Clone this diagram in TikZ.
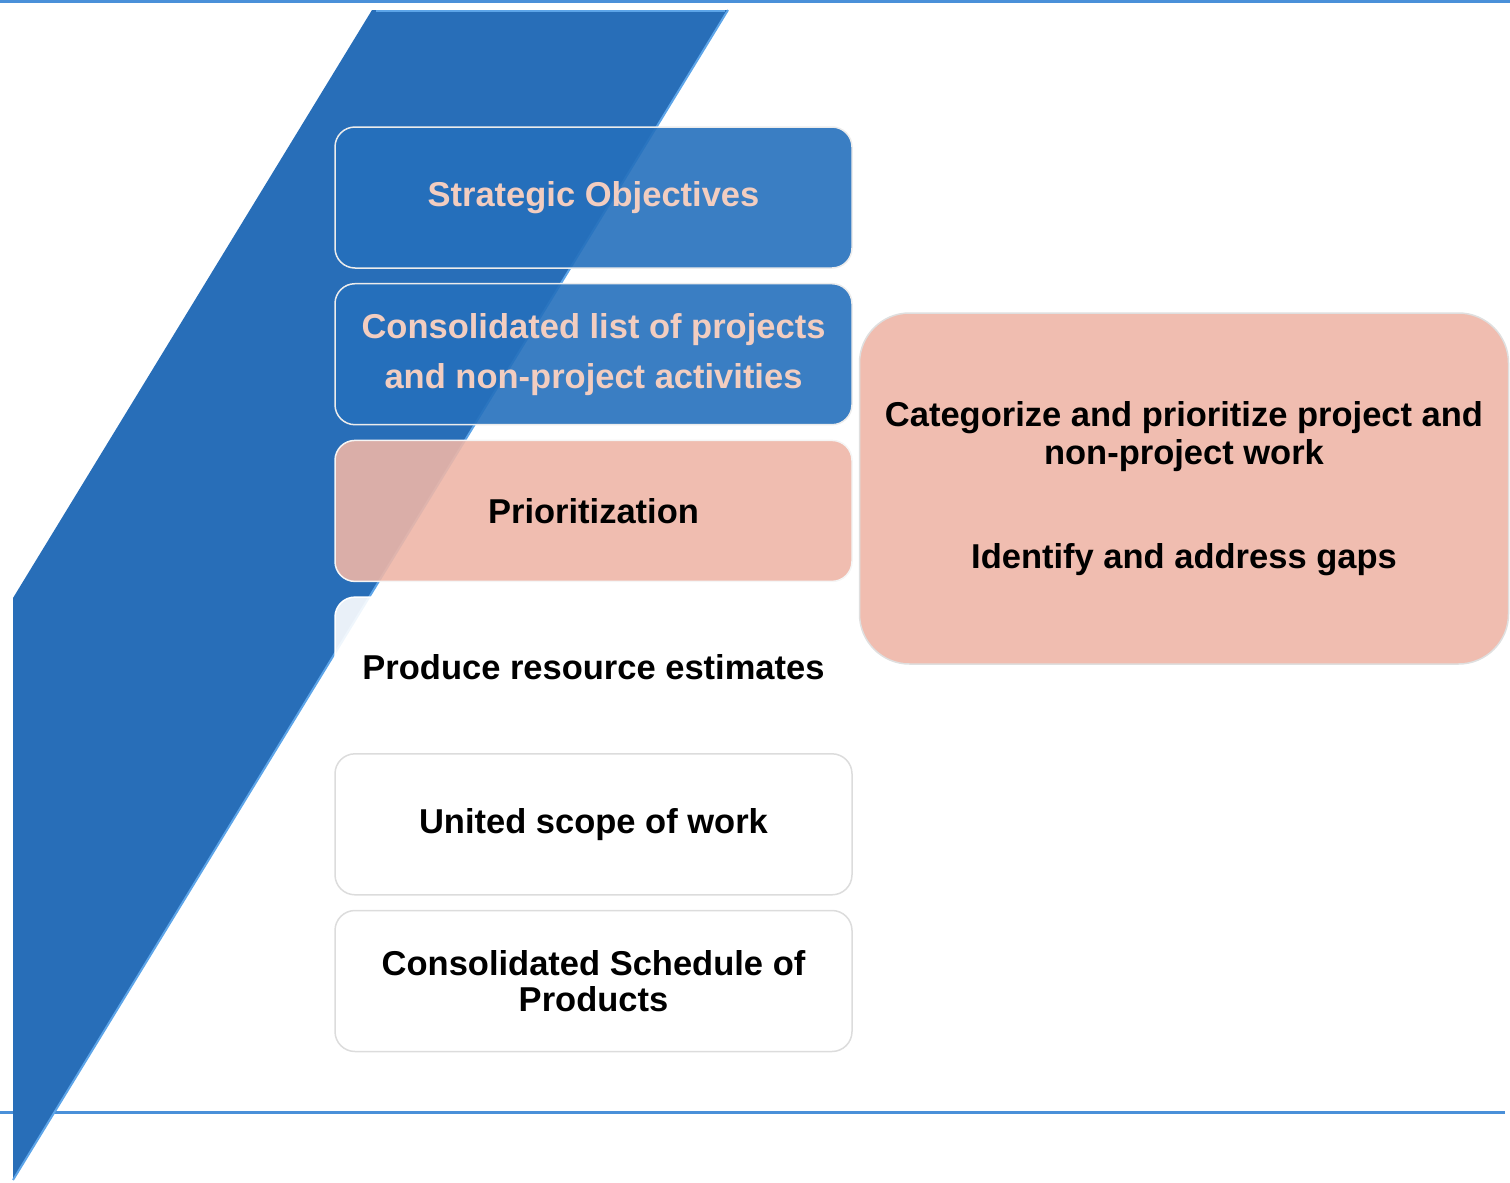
\documentclass[tikz,border=0pt]{standalone}
\usepackage{fontspec}
\setmainfont{Liberation Sans}
\usepackage{tikz}
\usetikzlibrary{positioning}

\definecolor{bandblue}{RGB}{40,110,184}
\definecolor{edgeblue}{RGB}{92,164,232}
\definecolor{lineblue}{RGB}{74,144,217}
\definecolor{boxblue}{RGB}{37,112,188}
\definecolor{boxpink}{RGB}{238,182,167}
\definecolor{textpink}{RGB}{242,205,192}
\definecolor{rimgray}{RGB}{220,220,220}

\begin{document}
\begin{tikzpicture}[x=1pt,y=-1pt,node distance=14.2pt,
                    font=\fontsize{34.5}{38}\selectfont\bfseries]
  \tikzstyle{stepbox}=[rectangle,rounded corners=20pt,minimum width=517pt,
                       minimum height=141pt,align=center,
                       fill opacity=0.9,text opacity=1]
  \tikzstyle{bluebox}=[stepbox,fill=boxblue,draw=white!85!gray,line width=1.5pt,
                       text=textpink]
  \tikzstyle{pinkbox}=[stepbox,fill=boxpink,draw=white!92!gray,line width=1.5pt]
  \tikzstyle{plainbox}=[stepbox,fill=white,draw=white,line width=1.5pt]
  \tikzstyle{whitebox}=[stepbox,fill=white,draw=rimgray,line width=1.5pt]
  \useasboundingbox (0,0) rectangle (1510,1183);

  % rules
  \draw[lineblue,line width=3pt] (0,1.5) -- (1510,1.5);
  \draw[lineblue,line width=3pt] (0,1112) -- (1505,1112);

  % slanted band
  \fill[bandblue] (372,10) -- (728,10) -- (13,1180) -- (13,598) -- cycle;
  \draw[edgeblue,line width=2pt] (728,10) -- (13,1180);
  \draw[edgeblue,line width=2pt] (376,11) -- (725,11);

  \node[bluebox]  (SO) at (593.5,197.5) {Strategic Objectives};
  \node[bluebox]  (CL) [below=of SO] {Consolidated list of projects\\[12pt]and non-project activities};
  \node[pinkbox]  (PR) [below=of CL] {Prioritization};
  \node[plainbox] (RE) [below=of PR] {Produce resource estimates};
  \node[whitebox] (US) [below=of RE] {United scope of work};
  \node[whitebox] (CS) [below=of US] {Consolidated Schedule of\\[-2pt]Products};

  \node[pinkbox,rounded corners=50pt,minimum width=649pt,minimum height=351pt,
        draw=white!75!gray] (CP) at (1184,488.5)
  {Categorize and prioritize project and\\non-project work\\[66pt]Identify and address gaps};

\end{tikzpicture}
\end{document}
